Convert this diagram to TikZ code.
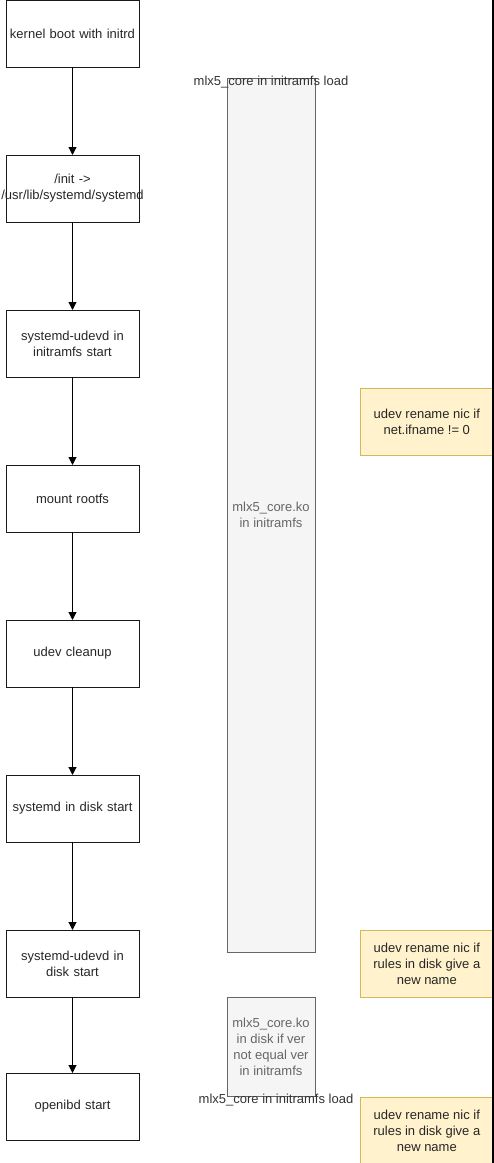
\documentclass[tikz,border=0pt]{standalone}
\usepackage{fontspec}
\setmainfont{Liberation Sans}
\usetikzlibrary{arrows.meta,positioning}

\definecolor{stepline}{HTML}{1A1A1A}
\definecolor{modfill}{HTML}{F5F5F5}
\definecolor{modline}{HTML}{666666}
\definecolor{notefill}{HTML}{FFF2CC}
\definecolor{noteline}{HTML}{D6B656}

\begin{document}
\begin{tikzpicture}[x=1pt,y=-1pt,
    font=\fontsize{13}{16}\selectfont,
    stepbox/.style={draw=stepline,line width=0.9pt,minimum width=133pt,minimum height=67pt,
      text width=133pt,align=center,inner sep=0pt,outer sep=0pt,text=black!85},
    flow/.style={-{Triangle[length=8pt,width=8pt]},line width=1pt,draw=black},
    modbox/.style={draw=modline,fill=modfill,line width=0.6pt,align=center,text=modline,inner sep=0pt},
    notebox/.style={draw=noteline,fill=notefill,line width=0.6pt,minimum width=133pt,minimum height=67pt,
      align=center,inner sep=0pt,text=black!85},
    loadlabel/.style={text=black!80,inner sep=0pt}]
  \useasboundingbox (0,0) rectangle (494,1163);

  % boot steps
  \node[stepbox,anchor=north] (kernel) at (72.5,0) {kernel boot with initrd};
  \node[stepbox,below=88pt of kernel] (init) {/init ->\\\makebox[133pt]{/usr/lib/systemd/systemd}};
  \node[stepbox,below=88pt of init] (udevinit) {systemd-udevd in\\initramfs start};
  \node[stepbox,below=88pt of udevinit] (mount) {mount rootfs};
  \node[stepbox,below=88pt of mount] (cleanup) {udev cleanup};
  \node[stepbox,below=88pt of cleanup] (sysdisk) {systemd in disk start};
  \node[stepbox,below=88pt of sysdisk] (udevdisk) {systemd-udevd in\\disk start};
  \node[stepbox,below=76pt of udevdisk] (openibd) {openibd start};

  \foreach \a/\b in {kernel/init,init/udevinit,udevinit/mount,mount/cleanup,
                     cleanup/sysdisk,sysdisk/udevdisk,udevdisk/openibd}
    \draw[flow] (\a) -- (\b);

  % module life times
  \node[modbox,minimum width=88pt,minimum height=874pt,anchor=north] (koinit) at (271,78)
    {mlx5\_core.ko\\in initramfs};
  \node[modbox,minimum width=88pt,minimum height=99pt,anchor=north] (kodisk) at (271,997)
    {mlx5\_core.ko\\in disk if ver\\not equal ver\\in initramfs};
  \node[loadlabel] (loadtop) at (271,82) {mlx5\_core in initramfs load};
  \node[loadlabel] (loadbot) at (276,1100) {mlx5\_core in initramfs load};

  % renames
  \node[notebox,anchor=north west] (renameif) at (360,388) {udev rename nic if\\net.ifname != 0};
  \node[notebox,anchor=north west] (renamedisk) at (360,930) {udev rename nic if\\rules in disk give a\\new name};
  \node[notebox,anchor=north west] (renameibd) at (360,1097) {udev rename nic if\\rules in disk give a\\new name};

  \draw[line width=1.2pt] (493,0) coordinate (edgetop) -- (493,1163) coordinate (edgebot);
\end{tikzpicture}
\end{document}
